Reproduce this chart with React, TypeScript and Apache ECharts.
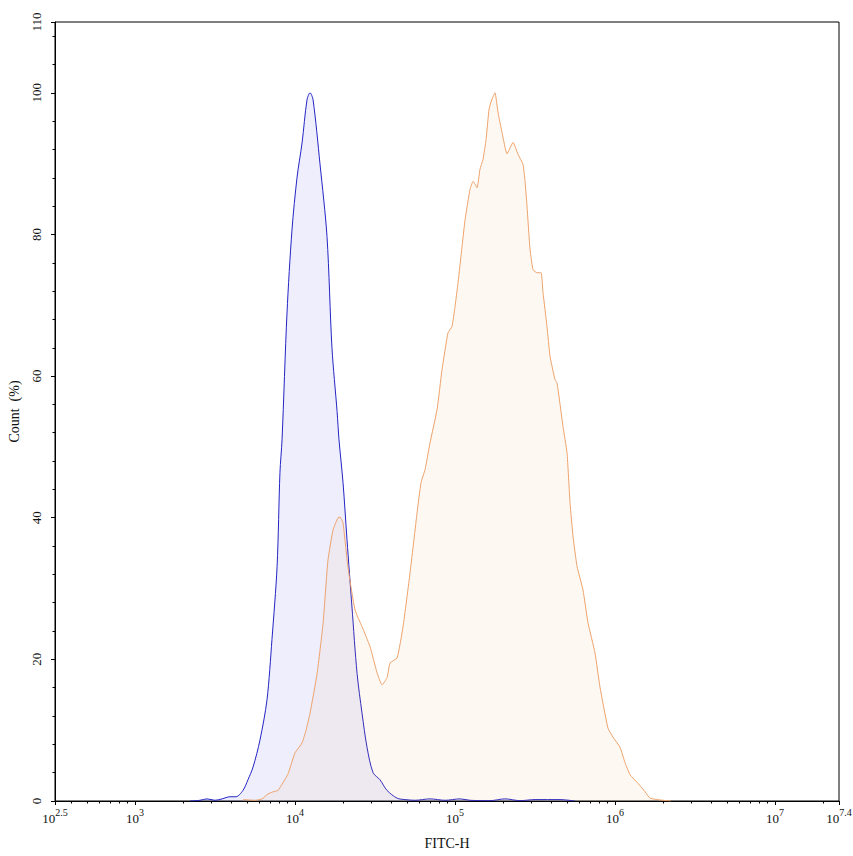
import React, { useEffect, useRef } from "react";
import * as echarts from "echarts";

// log10(FITC-H) positions and Count (%) values
const blueLogX = [3.344, 3.406, 3.45, 3.5, 3.544, 3.594, 3.631, 3.675, 3.706, 3.738, 3.781, 3.825, 3.856, 3.888, 3.906, 3.919, 3.95, 3.981, 4.013, 4.044, 4.075, 4.094, 4.113, 4.156, 4.2, 4.231, 4.263, 4.275, 4.3, 4.325, 4.356, 4.388, 4.419, 4.45, 4.488, 4.531, 4.575, 4.638, 4.688, 4.75, 4.844, 4.938, 5.031, 5.094, 5.219, 5.313, 5.406, 5.5, 5.656, 5.75];
const blueCount = [0, 0.1, 0.3, 0.1, 0.3, 0.6, 0.6, 1.5, 3.0, 4.8, 8.6, 14.3, 22.8, 33.1, 46.4, 51, 68.9, 80.6, 88.1, 92.9, 99, 100, 99, 90, 79.7, 64, 55, 51, 45, 36.9, 27.4, 18, 12.4, 7.6, 4, 3, 1.5, 0.4, 0.2, 0.1, 0.3, 0.1, 0.3, 0.1, 0.05, 0.3, 0.05, 0.2, 0.2, 0];

const orangeLogX = [3.675, 3.75, 3.794, 3.831, 3.863, 3.894, 3.925, 3.956, 4.0, 4.044, 4.069, 4.094, 4.138, 4.175, 4.206, 4.238, 4.269, 4.281, 4.3, 4.331, 4.375, 4.419, 4.469, 4.513, 4.544, 4.575, 4.594, 4.638, 4.675, 4.719, 4.763, 4.788, 4.813, 4.844, 4.888, 4.919, 4.956, 4.981, 5.0, 5.019, 5.044, 5.063, 5.094, 5.113, 5.138, 5.156, 5.175, 5.194, 5.213, 5.231, 5.25, 5.269, 5.294, 5.325, 5.363, 5.394, 5.425, 5.438, 5.45, 5.469, 5.488, 5.513, 5.538, 5.55, 5.575, 5.594, 5.625, 5.638, 5.675, 5.7, 5.719, 5.738, 5.763, 5.8, 5.831, 5.875, 5.906, 5.956, 5.988, 6.031, 6.063, 6.094, 6.144, 6.188, 6.219, 6.3, 6.35];
const orangeCount = [0.2, 0.1, 0.3, 1.0, 1.3, 1.5, 2.6, 3.8, 6.8, 8.2, 10, 12.4, 18, 25, 34, 38.3, 40, 40.1, 39.3, 33, 27, 24.6, 21.8, 18.1, 16.4, 17.4, 19.5, 20.2, 24.6, 32.2, 40.7, 45, 46.8, 50.6, 55.3, 60.9, 66.1, 67, 69.8, 73.2, 78.3, 82.1, 86.4, 87.5, 86.6, 89.2, 90.6, 93.4, 97.7, 99.1, 100, 97.2, 94.4, 91.4, 93, 91.3, 89.9, 87.4, 84, 77.9, 75, 74.6, 74.6, 71.8, 67, 62.8, 59.5, 59, 52.9, 49.2, 42.1, 37.3, 33.1, 29.8, 25.2, 20.9, 16.1, 10.3, 9.0, 7.6, 5.4, 3.7, 2.5, 1.3, 0.4, 0.1, 0];

const xLabelExponents = [2.5, 3, 4, 5, 6, 7, 7.4];
const yLabelValues = [0, 20, 40, 60, 80, 100, 110];
const xMin = 2.5;
const xMax = 7.4;
const yMin = 0;
const yMax = 110;

const FONT = "'Liberation Serif', 'Times New Roman', serif";

function minorXTicks(): number[] {
  const out: number[] = [];
  for (let d = 2; d <= 7; d++) {
    for (let k = 2; k <= 9; k++) {
      const v = d + Math.log10(k);
      if (v > xMin && v < xMax) out.push(v);
    }
  }
  return out;
}

function minorYTicks(): number[] {
  const out: number[] = [];
  for (let v = 0; v <= 108; v += 4) out.push(v);
  return out;
}

export default function App() {
  const ref = useRef<HTMLDivElement>(null);
  useEffect(() => {
    document.body.style.margin = "0";
    const chart = echarts.init(ref.current!, null, { renderer: "svg" });
    const fmtExp = (v: number) => (Math.abs(v - Math.round(v)) < 1e-6 ? String(Math.round(v)) : v.toFixed(1));
    const option: any = {
      animation: false,
      backgroundColor: "#fff",
      grid: {
        left: 55,
        right: 14,
        top: 22,
        bottom: 55,
        show: true,
        borderColor: "#000",
        borderWidth: 1,
        backgroundColor: "transparent",
        containLabel: false,
        outerBoundsMode: "none",
      },
      xAxis: [
        {
          type: "value",
          min: xMin,
          max: xMax,
          position: "bottom",
          name: "FITC-H",
          nameLocation: "middle",
          nameGap: 35,
          nameTextStyle: { fontFamily: FONT, fontSize: 14, color: "#111" },
          axisLine: { show: true, lineStyle: { color: "#000", width: 1 } },
          axisTick: { show: true, length: 4, customValues: xLabelExponents, lineStyle: { color: "#000" } },
          axisLabel: {
            show: true,
            customValues: xLabelExponents,
            margin: 6,
            formatter: (v: number) => `{b|10}{s|${fmtExp(v)}}`,
            rich: {
              b: { fontFamily: FONT, fontSize: 13, lineHeight: 18, verticalAlign: "bottom", color: "#111" },
              s: { fontFamily: FONT, fontSize: 10, lineHeight: 10, verticalAlign: "top", color: "#111" },
            },
          },
          splitLine: { show: false },
        },
        {
          type: "value",
          min: xMin,
          max: xMax,
          position: "bottom",
          axisLine: { show: false },
          axisTick: { show: true, length: 2.5, customValues: minorXTicks(), lineStyle: { color: "#000" } },
          axisLabel: { show: false },
          splitLine: { show: false },
        },
      ],
      yAxis: [
        {
          type: "value",
          min: yMin,
          max: yMax,
          position: "left",
          name: "Count  (%)",
          nameLocation: "middle",
          nameGap: 34,
          nameTextStyle: { fontFamily: FONT, fontSize: 14, color: "#111" },
          axisLine: { show: true, lineStyle: { color: "#000", width: 1 } },
          axisTick: { show: true, length: 4, customValues: yLabelValues, lineStyle: { color: "#000" } },
          axisLabel: {
            show: true,
            customValues: yLabelValues,
            rotate: 90,
            margin: 12,
            fontFamily: FONT,
            fontSize: 13,
            color: "#111",
          },
          splitLine: { show: false },
        },
        {
          type: "value",
          min: yMin,
          max: yMax,
          position: "left",
          axisLine: { show: false },
          axisTick: { show: true, length: 2.5, customValues: minorYTicks(), lineStyle: { color: "#000" } },
          axisLabel: { show: false },
          splitLine: { show: false },
        },
      ],
      series: [
        {
          name: "control",
          type: "line",
          xAxisIndex: 0,
          yAxisIndex: 0,
          data: blueLogX.map((x, i) => [x, blueCount[i]]),
          showSymbol: false,
          smooth: 0.3,
          lineStyle: { color: "#2424c4", width: 1 },
          areaStyle: { color: "rgba(110,110,240,0.17)" },
          z: 2,
        },
        {
          name: "sample",
          type: "line",
          xAxisIndex: 0,
          yAxisIndex: 0,
          data: orangeLogX.map((x, i) => [x, orangeCount[i]]),
          showSymbol: false,
          smooth: 0.15,
          lineStyle: { color: "#eda36b", width: 1 },
          areaStyle: { color: "rgba(240,160,100,0.11)" },
          z: 3,
        },
      ],
    };
    chart.setOption(option);
    return () => chart.dispose();
  }, []);
  return <div ref={ref} style={{ width: 853, height: 856 }} />;
}
